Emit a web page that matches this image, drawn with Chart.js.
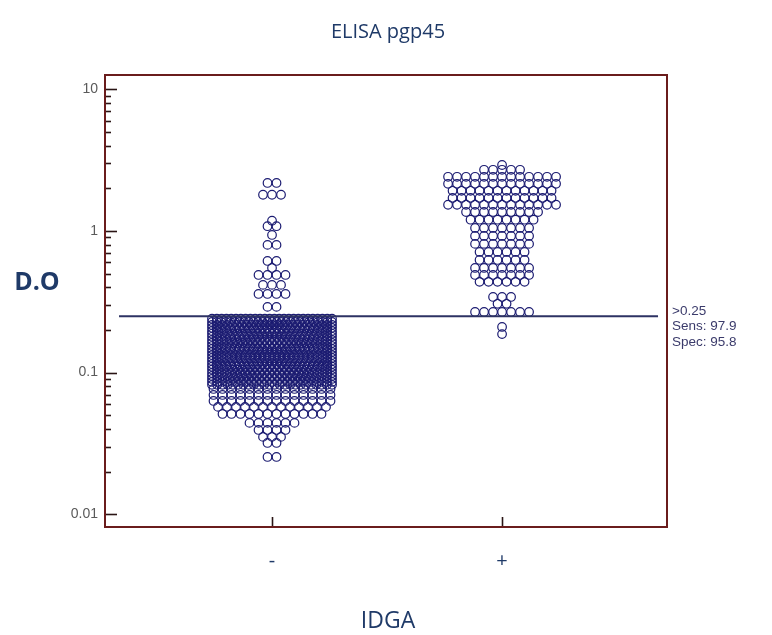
<!DOCTYPE html>
<html><head><meta charset="utf-8">
<script src="https://cdn.jsdelivr.net/npm/chart.js@4.4.1/dist/chart.umd.min.js"></script>
<style>html,body{margin:0;padding:0;background:#fff;}</style>
</head><body>
<canvas id="c" width="772" height="635"></canvas>
<script>
// ---------- data ----------
const categories = ['-', '+'];
const titleText = 'ELISA pgp45';
const yTitle = 'D.O';
const xTitle = 'IDGA';
const yTickLabels = ['0.01', '0.1', '1', '10'];
const noteLines = ['>0.25', 'Sens: 97.9', 'Spec: 95.8'];
const cutoff = 0.25;

// IDGA negative: optical density levels and number of animals at each level
const negRowValues = [2.18, 1.80, 1.18, 1.08, 0.937, 0.797, 0.614, 0.548, 0.489, 0.416, 0.359, 0.291,
  0.240, 0.228, 0.217, 0.207, 0.197, 0.188, 0.179, 0.170, 0.162, 0.154, 0.147, 0.140,
  0.133, 0.127, 0.121, 0.115, 0.110, 0.105, 0.0995, 0.0948, 0.0903, 0.086, 0.082,
  0.0767, 0.0696, 0.0631, 0.0573, 0.0511, 0.0442, 0.0394, 0.0352, 0.0319, 0.0254];
const negRowCounts = [2, 3, 1, 2, 1, 2, 2, 1, 4, 3, 4, 2,
  26, 27, 25, 27, 26, 25, 27, 26, 25, 26, 27, 25,
  26, 26, 25, 27, 26, 25, 26, 25, 24, 25, 24,
  14, 14, 14, 13, 12, 6, 4, 3, 2, 2];

// IDGA positive
const posRowValues = [2.92, 2.70, 2.41, 2.15, 1.92, 1.71, 1.53, 1.36, 1.20, 1.05, 0.922, 0.810,
  0.711, 0.624, 0.548, 0.489, 0.437, 0.342, 0.306, 0.268, 0.210, 0.187];
const posRowCounts = [1, 5, 13, 13, 12, 12, 13, 9, 8, 7, 7, 7,
  6, 6, 7, 7, 6, 3, 2, 7, 1, 1];

// ---------- layout helpers ----------
const X_MIN = 0.274, X_MAX = 2.717;
const PLOT_W = 562;                       // chart area width in px
const PX_PER_UNIT = PLOT_W / (X_MAX - X_MIN);

function swarm(center, values, counts, maxHalfPx, stepPx) {
  const pts = [];
  values.forEach((v, i) => {
    const n = counts[i];
    const step = n > 1 ? Math.min(stepPx, 2 * maxHalfPx / (n - 1)) : 0;
    for (let k = 0; k < n; k++) {
      const off = (k - (n - 1) / 2) * step;
      pts.push({ x: center + off / PX_PER_UNIT, y: v });
    }
  });
  return pts;
}

const negPts = swarm(1, negRowValues, negRowCounts, 60, 9);
const posPts = swarm(2, posRowValues, posRowCounts, 56, 9);

const yTicks = [];
[0.01, 0.1, 1].forEach(d => { for (let m = 1; m <= 9; m++) yTicks.push(+(d * m).toPrecision(3)); });
yTicks.push(10);

const isMajor = v => yTickLabels.includes(String(+(+v).toPrecision(3)));

const NAVY = '#1f3a68';

const framePlugin = {
  id: 'frame',
  afterDraw(chart) {
    const { ctx, chartArea: a, scales } = chart;
    const x = scales.x, y = scales.y;
    ctx.save();
    // inward ticks on y axis
    ctx.strokeStyle = '#2a1414';
    ctx.lineWidth = 1.6;
    y.ticks.forEach(t => {
      const py = Math.round(y.getPixelForValue(t.value)) + 0.5;
      const len = isMajor(t.value) ? 12 : 6;
      ctx.beginPath(); ctx.moveTo(a.left, py); ctx.lineTo(a.left + len, py); ctx.stroke();
    });
    // inward ticks on x axis
    x.ticks.forEach(t => {
      const px = Math.round(x.getPixelForValue(t.value)) + 0.5;
      ctx.beginPath(); ctx.moveTo(px, a.bottom); ctx.lineTo(px, a.bottom - 10); ctx.stroke();
    });
    // frame
    ctx.strokeStyle = '#6a1c1c';
    ctx.lineWidth = 2;
    ctx.strokeRect(a.left, a.top, a.right - a.left, a.bottom - a.top);
    // texts
    ctx.fillStyle = NAVY;
    ctx.textAlign = 'center';
    ctx.textBaseline = 'middle';
    ctx.font = '20px "Open Sans", "Noto Sans", sans-serif';
    ctx.fillText(titleText, 388, 32);
    ctx.font = '23px "Open Sans", "Noto Sans", sans-serif';
    ctx.fillText(xTitle, 388, 621);
    ctx.font = 'bold 25px "Open Sans", "Noto Sans", sans-serif';
    ctx.fillText(yTitle, 37, 283);
    // note at right of cutoff
    ctx.fillStyle = '#3b3b6b';
    ctx.textAlign = 'left';
    ctx.font = '13.5px "Liberation Sans", Arial, sans-serif';
    const ly = y.getPixelForValue(cutoff);
    noteLines.forEach((s, i) => ctx.fillText(s, a.right + 5, ly - 5 + i * 15.5));
    ctx.restore();
  }
};

new Chart(document.getElementById('c'), {
  type: 'scatter',
  data: {
    datasets: [
      {
        type: 'line',
        label: 'cutoff',
        data: [{ x: 0.335, y: cutoff }, { x: 2.678, y: cutoff }],
        borderColor: '#2d3263',
        borderWidth: 2,
        pointRadius: 0,
        order: 0
      },
      {
        label: categories[0],
        data: negPts,
        pointStyle: 'circle',
        pointRadius: 4.3,
        borderWidth: 1.2,
        borderColor: '#1c1c72',
        backgroundColor: 'rgba(255,255,255,0)',
        order: 1
      },
      {
        label: categories[1],
        data: posPts,
        pointStyle: 'circle',
        pointRadius: 4.3,
        borderWidth: 1.2,
        borderColor: '#1c1c72',
        backgroundColor: 'rgba(255,255,255,0)',
        order: 2
      }
    ]
  },
  options: {
    responsive: false,
    animation: false,
    devicePixelRatio: 1,
    layout: { padding: { left: 0, right: 105, top: 75, bottom: 0 } },
    plugins: { legend: { display: false }, tooltip: { enabled: false }, title: { display: false } },
    scales: {
      x: {
        type: 'linear',
        min: X_MIN, max: X_MAX,
        afterBuildTicks: s => { s.ticks = [{ value: 1 }, { value: 2 }]; },
        afterFit: s => { s.height = 108; },
        grid: { display: false, drawTicks: false },
        border: { display: false },
        ticks: {
          autoSkip: false,
          maxRotation: 0,
          padding: 22,
          color: NAVY,
          font: { family: '"Open Sans", "Noto Sans", sans-serif', size: 20 },
          callback: v => categories[Math.round(v) - 1] || ''
        }
      },
      y: {
        type: 'logarithmic',
        min: 0.00814, max: 12.6,
        afterBuildTicks: s => { s.ticks = yTicks.map(v => ({ value: v })); },
        afterFit: s => { s.width = 105; },
        grid: { display: false, drawTicks: false },
        border: { display: false },
        ticks: {
          autoSkip: false,
          padding: 7,
          color: '#5a5a5a',
          font: { family: '"Liberation Sans", Arial, sans-serif', size: 14 },
          callback: v => isMajor(v) ? String(+(+v).toPrecision(3)) : ''
        }
      }
    }
  },
  plugins: [framePlugin]
});
</script>
</body></html>
